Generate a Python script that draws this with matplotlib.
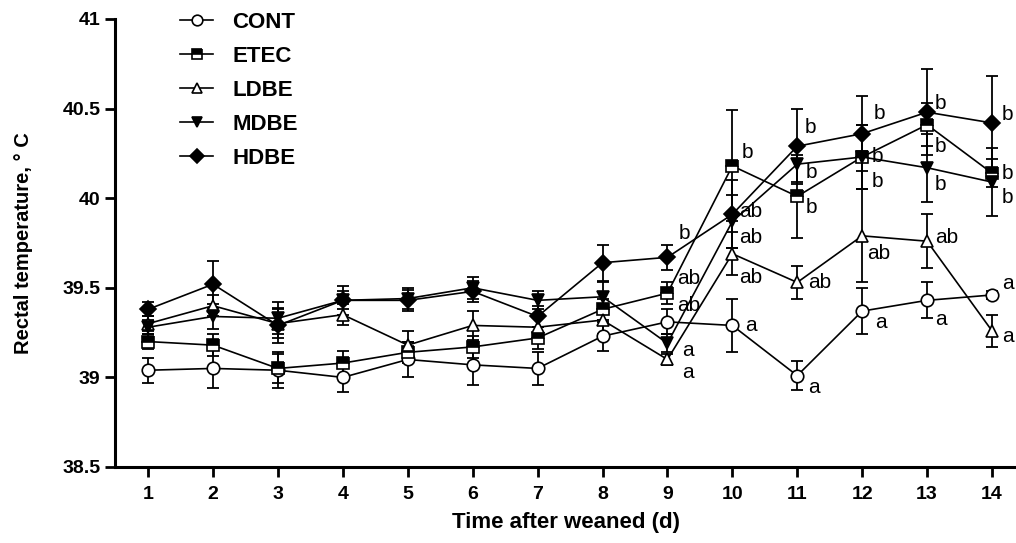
import matplotlib
matplotlib.use("Agg")
import matplotlib.pyplot as plt

# Rectal temperature after weaning, mean +/- SEM
days = list(range(1, 15))

groups = ["CONT", "ETEC", "LDBE", "MDBE", "HDBE"]

cont = [39.04, 39.05, 39.04, 39.00, 39.10, 39.07, 39.05, 39.23, 39.31, 39.29, 39.01, 39.37, 39.43, 39.46]
cont_err = [0.07, 0.11, 0.10, 0.08, 0.10, 0.11, 0.09, 0.08, 0.07, 0.15, 0.08, 0.13, 0.10, 0.02]

etec = [39.20, 39.18, 39.05, 39.08, 39.14, 39.17, 39.22, 39.38, 39.47, 40.18, 40.01, 40.23, 40.41, 40.14]
etec_err = [0.04, 0.06, 0.08, 0.07, 0.06, 0.06, 0.06, 0.06, 0.06, 0.31, 0.23, 0.18, 0.12, 0.08]

ldbe = [39.30, 39.40, 39.30, 39.35, 39.18, 39.29, 39.28, 39.32, 39.10, 39.69, 39.53, 39.79, 39.76, 39.26]
ldbe_err = [0.04, 0.06, 0.08, 0.06, 0.08, 0.08, 0.07, 0.08, 0.03, 0.12, 0.09, 0.26, 0.15, 0.09]

mdbe = [39.28, 39.34, 39.33, 39.43, 39.44, 39.50, 39.43, 39.45, 39.19, 39.87, 40.19, 40.23, 40.17, 40.09]
mdbe_err = [0.04, 0.07, 0.09, 0.05, 0.06, 0.06, 0.05, 0.08, 0.05, 0.15, 0.10, 0.18, 0.19, 0.19]

hdbe = [39.38, 39.52, 39.29, 39.43, 39.43, 39.48, 39.34, 39.64, 39.67, 39.91, 40.29, 40.36, 40.48, 40.42]
hdbe_err = [0.04, 0.13, 0.10, 0.08, 0.06, 0.06, 0.06, 0.10, 0.07, 0.19, 0.21, 0.21, 0.24, 0.26]

# significance letters for days 9-14
letter_days = [9, 10, 11, 12, 13, 14]
cont_letters = ["ab", "a", "a", "a", "a", "a"]
etec_letters = ["ab", "b", "b", "b", "b", "b"]
ldbe_letters = ["a", "ab", "ab", "ab", "ab", "a"]
mdbe_letters = ["a", "ab", "b", "b", "b", "b"]
hdbe_letters = ["b", "ab", "b", "b", "b", "b"]

# label nudges in pixels (dx right, dy down) to keep letters apart
cont_nudge = [(10, -16), (13, 0), (11, 12), (13, 11), (8, 19), (10, -11)]
etec_nudge = [(10, -15), (9, -13), (8, 11), (10, 0), (8, 22), (10, 0)]
ldbe_nudge = [(15, 13), (7, 24), (11, 0), (5, 18), (8, -4), (10, 6)]
mdbe_nudge = [(15, 7), (7, 16), (8, 8), (10, 25), (8, 17), (10, 15)]
hdbe_nudge = [(11, -24), (7, -3), (7, -19), (12, -20), (8, -9), (10, -8)]

values = [cont, etec, ldbe, mdbe, hdbe]
errors = [cont_err, etec_err, ldbe_err, mdbe_err, hdbe_err]
letters = [cont_letters, etec_letters, ldbe_letters, mdbe_letters, hdbe_letters]
nudges = [cont_nudge, etec_nudge, ldbe_nudge, mdbe_nudge, hdbe_nudge]

marker_styles = [
    dict(marker="o", markerfacecolor="white", fillstyle="full", markersize=9),
    dict(marker="s", markerfacecolor="black", markerfacecoloralt="white", fillstyle="top", markersize=8),
    dict(marker="^", markerfacecolor="white", fillstyle="full", markersize=9),
    dict(marker="v", markerfacecolor="black", fillstyle="full", markersize=9),
    dict(marker="D", markerfacecolor="black", fillstyle="full", markersize=8),
]

plt.rcParams["font.family"] = ["Liberation Sans", "DejaVu Sans"]

fig = plt.figure(figsize=(10.16, 5.43), dpi=100)
ax = fig.add_axes([115 / 1016, 76 / 543, 901 / 1016, 448 / 543])

handles = []
for name, y, e, style in zip(groups, values, errors, marker_styles):
    ax.errorbar(days, y, yerr=e, fmt="none", ecolor="black", elinewidth=1.3,
                capsize=4.5, capthick=1.3, zorder=2)
    (h,) = ax.plot(days, y, color="black", linewidth=1.2, markeredgecolor="black",
                   markeredgewidth=1.2, label=name, zorder=3, **style)
    handles.append(h)

for y, lab, nud in zip(values, letters, nudges):
    for d, text, (dx, dy) in zip(letter_days, lab, nud):
        ax.annotate(text, (d, y[d - 1]), xytext=(dx, -dy), textcoords="offset pixels",
                    ha="left", va="center", fontsize=15, annotation_clip=False)

ax.set_xlim(0.49, 14.37)
ax.set_ylim(38.5, 41)
ax.set_xticks(days)
ax.set_yticks([38.5, 39, 39.5, 40, 40.5, 41])
ax.set_yticklabels(["38.5", "39", "39.5", "40", "40.5", "41"])

for side in ["top", "right"]:
    ax.spines[side].set_visible(False)
for side in ["left", "bottom"]:
    ax.spines[side].set_linewidth(2.2)

ax.tick_params(axis="both", direction="out", length=7, width=2, labelsize=14)
for lbl in ax.get_yticklabels() + ax.get_xticklabels():
    lbl.set_fontweight("bold")
ax.tick_params(axis="x", pad=7)

ax.set_xlabel("Time after weaned (d)", fontsize=16, fontweight="bold", labelpad=6)
ax.set_ylabel("Rectal temperature, \u00b0 C", fontsize=14.5, fontweight="bold")
ax.yaxis.set_label_coords(-0.091, 0.5)

fig.legend(handles=handles, loc="upper left", bbox_to_anchor=(180 / 1016, 1 - 12 / 543),
           frameon=False, prop={"size": 16, "weight": "bold"}, handlelength=1.5,
           labelspacing=0.58, handletextpad=0.85, borderaxespad=0, borderpad=0,
           markerscale=0.85)

fig.savefig("out.png", dpi=100)
